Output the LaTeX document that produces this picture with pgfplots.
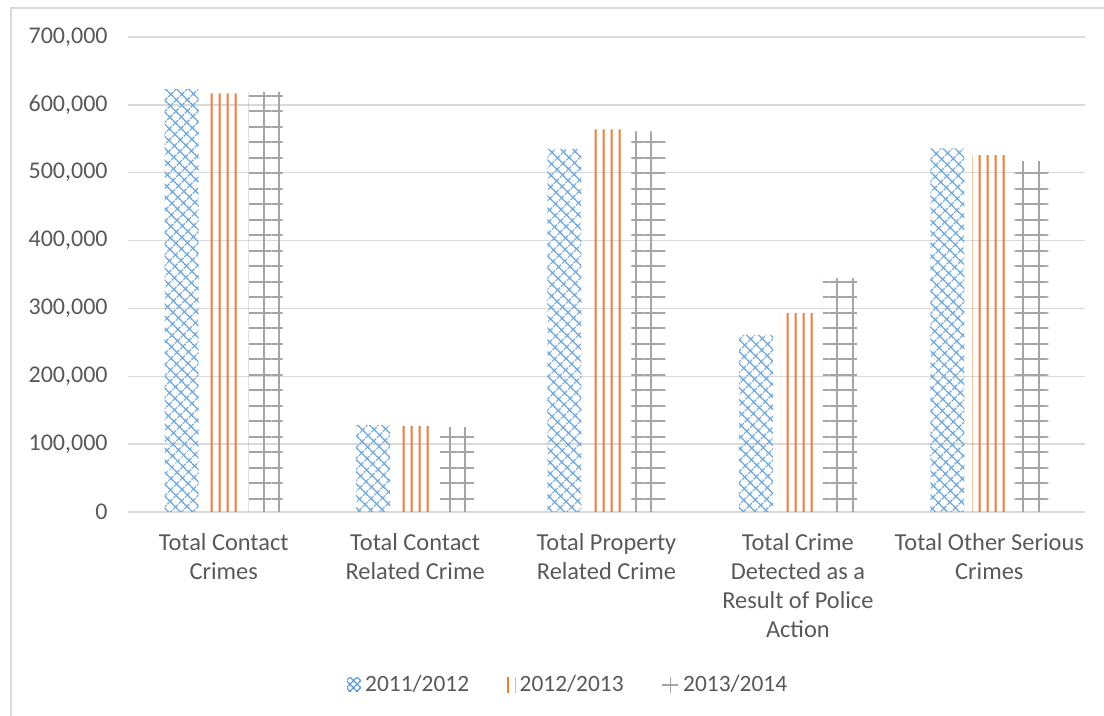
\documentclass[border=0pt]{standalone}
\usepackage{fontspec}
\setmainfont{Carlito}
\usepackage{pgfplots}
\pgfplotsset{compat=1.18}
\usetikzlibrary{patterns.meta}
\definecolor{cblue}{HTML}{5B9BD5}
\definecolor{corange}{HTML}{ED7D31}
\definecolor{cgray}{HTML}{A5A5A5}
\definecolor{ctext}{HTML}{595959}
\definecolor{cgrid}{HTML}{D9D9D9}
\pgfdeclarepattern{name=vlinesO, type=uncolored,
  bottom left={\pgfpoint{0pt}{0pt}}, top right={\pgfpoint{3.85pt}{60pt}},
  tile size={\pgfpoint{3.85pt}{60pt}},
  code={\pgfsetlinewidth{1.1pt}\pgfpathmoveto{\pgfpoint{1.9pt}{-2pt}}\pgfpathlineto{\pgfpoint{1.9pt}{62pt}}\pgfusepath{stroke}}}
\begin{document}
\begin{tikzpicture}
\path[use as bounding box] (0,0) rectangle (552pt,358pt);
\draw[cgrid, line width=0.9pt] (5.5pt,0) -- (5.5pt,354pt) -- (552pt,354pt);
\begin{axis}[
  at={(64pt,102pt)}, anchor=south west,
  scale only axis, width=478.5pt, height=237.5pt,
  xmin=-0.5, xmax=4.5, ymin=0, ymax=700000,
  ybar=4pt, bar width=17pt,
  xtick={0,1,2,3,4},
  xticklabels={{Total Contact\\Crimes},{Total Contact\\Related Crime},{Total Property\\Related Crime},{Total Crime\\Detected as a\\Result of Police\\Action},{Total Other Serious\\Crimes}},
  xticklabel style={align=center, font=\fontsize{12.2}{14.6}\selectfont, text=ctext, yshift=-7pt},
  ytick={0,100000,...,700000},
  scaled y ticks=false,
  yticklabel style={font=\fontsize{12}{13}\selectfont, text=ctext, inner sep=0pt, xshift=-10pt,
    /pgf/number format/fixed, /pgf/number format/precision=0,
    /pgf/number format/1000 sep={,}, /pgf/number format/assume math mode=true},
  major tick length=0pt,
  tick style={draw=none},
  ymajorgrids, grid style={cgrid, line width=0.75pt},
  axis x line*=bottom,
  x axis line style={cgrid, line width=0.9pt},
  y axis line style={draw=none},
  legend columns=3,
  legend style={draw=none, fill=none, at={(0.461,-0.364)}, anchor=center,
    font=\fontsize{11.7}{13}\selectfont, text=ctext,
    /tikz/every even column/.append style={column sep=17pt}},
]
\addplot[draw=none, pattern={Hatch[angle=45,distance=4pt,line width=0.75pt]}, pattern color=cblue!85,
  legend image code/.code={\fill[pattern={Hatch[angle=45,distance=2.5pt,line width=0.6pt]}, pattern color=cblue] (0pt,-3.5pt) rectangle (7pt,3.5pt);}]
  coordinates {(0,623000) (1,128000) (2,535000) (3,261000) (4,536000)};
\addplot[draw=none, pattern=vlinesO, pattern color=corange,
  legend image code/.code={\draw[corange, line width=1pt] (1.5pt,-4pt)--(1.5pt,4pt); \draw[corange!60, line width=0.6pt] (5pt,-4pt)--(5pt,4pt);}]
  coordinates {(0,617000) (1,127000) (2,564000) (3,293000) (4,526000)};
\addplot[draw=none, pattern={Hatch[angle=0,distance=7.75pt,line width=1pt]}, pattern color=cgray,
  legend image code/.code={\draw[cgray, line width=0.8pt] (0pt,0pt)--(8pt,0pt) (4pt,-4pt)--(4pt,4pt);}]
  coordinates {(0,619000) (1,125000) (2,561000) (3,345000) (4,517000)};
\legend{2011/2012, 2012/2013, 2013/2014}
\end{axis}
\end{tikzpicture}
\end{document}
